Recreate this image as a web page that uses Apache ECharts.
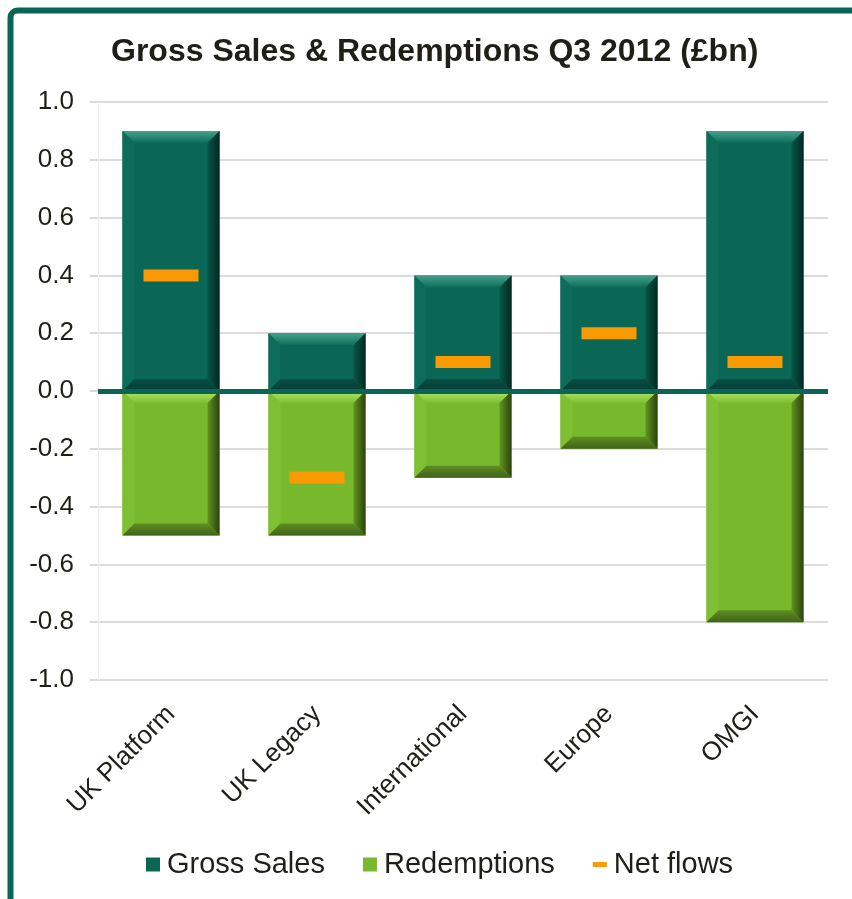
<!DOCTYPE html>
<html>
<head>
<meta charset="utf-8">
<script src="https://cdn.jsdelivr.net/npm/echarts@6/dist/echarts.min.js"></script>
<style>
  html, body { margin: 0; padding: 0; background: #ffffff; }
  #chart { width: 852px; height: 899px; }
</style>
</head>
<body>
<div id="chart"></div>
<script>
// Q3 2012 flows by business unit, £bn
const categories = ['UK Platform', 'UK Legacy', 'International', 'Europe', 'OMGI'];
const grossSales = [0.9, 0.2, 0.4, 0.4, 0.9];
const redemptions = [-0.5, -0.5, -0.3, -0.2, -0.8];
const netFlows = [0.4, -0.3, 0.1, 0.2, 0.1];

const FONT = "'Liberation Sans', Arial, sans-serif";
const BORDER_GREEN = '#0a6554';

// Colour sets for the bevelled bar faces
const palettes = {
  gross: { face: '#0a6655', topA: '#44a28b', topB: '#0e6c5a', left: '#0e6c5a',
           rightA: '#085548', rightB: '#022a22', bottomA: '#084f43', bottomB: '#063d33' },
  red:   { face: '#77b82c', topA: '#b2e866', topB: '#7dbe32', left: '#7fbf33',
           rightA: '#5f9521', rightB: '#2c420c', bottomA: '#5e8f22', bottomB: '#41621a' }
};

function bevelBar(pal) {
  return function (params, api) {
    const idx = api.value(0);
    const v = api.value(1);
    const p0 = api.coord([idx, 0]);
    const p1 = api.coord([idx, v]);
    const w = api.size([1, 0])[0] * 0.665;
    const l = p0[0] - w / 2, r = p0[0] + w / 2;
    const t = Math.min(p0[1], p1[1]), b = Math.max(p0[1], p1[1]);
    const h = b - t;
    const e = Math.min(12, h / 2, w / 2);
    const lin = (x1, y1, x2, y2, c1, c2) => new echarts.graphic.LinearGradient(x1, y1, x2, y2,
      [{ offset: 0, color: c1 }, { offset: 1, color: c2 }]);
    return {
      type: 'group',
      children: [
        { type: 'rect', shape: { x: l, y: t, width: w, height: h }, style: { fill: pal.face } },
        { type: 'polygon', shape: { points: [[l, t], [r, t], [r - e, t + e], [l + e, t + e]] },
          style: { fill: lin(0, 0, 0, 1, pal.topA, pal.topB) } },
        { type: 'polygon', shape: { points: [[l, t], [l + e, t + e], [l + e, b - e], [l, b]] },
          style: { fill: pal.left } },
        { type: 'polygon', shape: { points: [[l, b], [l + e, b - e], [r - e, b - e], [r, b]] },
          style: { fill: lin(0, 0, 0, 1, pal.bottomA, pal.bottomB) } },
        { type: 'polygon', shape: { points: [[r, t], [r, b], [r - e, b - e], [r - e, t + e]] },
          style: { fill: lin(0, 0, 1, 0, pal.rightA, pal.rightB) } }
      ]
    };
  };
}

const chart = echarts.init(document.getElementById('chart'), null, { renderer: 'canvas' });

chart.setOption({
  animation: false,
  backgroundColor: '#ffffff',
  textStyle: { fontFamily: FONT },
  title: {
    text: 'Gross Sales & Redemptions Q3 2012 (£bn)',
    left: 106,
    top: 31,
    textStyle: { fontFamily: FONT, fontSize: 32, fontWeight: 'bold', color: '#1f1f18' }
  },
  graphic: [{
    type: 'rect',
    z: 100,
    silent: true,
    shape: { x: 10.5, y: 10.5, width: 960, height: 1000, r: 7 },
    style: { fill: 'none', stroke: BORDER_GREEN, lineWidth: 6 }
  }],
  legend: {
    left: 141,
    top: 845,
    itemWidth: 14,
    itemHeight: 14,
    itemGap: 38,
    textStyle: { fontFamily: FONT, fontSize: 29, color: '#1f1f18', padding: [0, 0, 0, 2] },
    data: [
      { name: 'Gross Sales', icon: 'rect', itemStyle: { color: '#0a6655' } },
      { name: 'Redemptions', icon: 'rect', itemStyle: { color: '#77b82c' } },
      { name: 'Net flows', icon: 'path://M0,0 h17 v6 h-17 z', itemStyle: { color: '#f89a00' } }
    ]
  },
  grid: { left: 98, right: 24, top: 102, bottom: 219, containLabel: false },
  xAxis: {
    type: 'category',
    data: categories,
    axisLine: { show: false },
    axisTick: { show: false },
    axisLabel: {
      rotate: 45,
      margin: 30,
      interval: 0,
      fontFamily: FONT,
      fontSize: 26,
      color: '#1f1f18'
    },
    splitLine: { show: false }
  },
  yAxis: {
    type: 'value',
    min: -1,
    max: 1,
    interval: 0.2,
    axisLine: { show: true, lineStyle: { color: '#ececec', width: 1 } },
    axisTick: { show: true, length: 8, lineStyle: { color: '#d9d9d9', width: 2 } },
    axisLabel: {
      margin: 24,
      fontFamily: FONT,
      fontSize: 26,
      color: '#1f1f18',
      formatter: v => v.toFixed(1)
    },
    splitLine: { show: true, lineStyle: { color: '#dcdcdc', width: 2 } }
  },
  series: [
    {
      name: 'Gross Sales',
      type: 'custom',
      itemStyle: { color: '#0a6655' },
      renderItem: bevelBar(palettes.gross),
      encode: { x: 0, y: 1 },
      data: grossSales.map((v, i) => [i, v]),
      z: 2
    },
    {
      name: 'Redemptions',
      type: 'custom',
      itemStyle: { color: '#77b82c' },
      renderItem: bevelBar(palettes.red),
      encode: { x: 0, y: 1 },
      data: redemptions.map((v, i) => [i, v]),
      z: 2
    },
    {
      name: 'Net flows',
      type: 'scatter',
      symbol: 'rect',
      symbolSize: [55, 12],
      itemStyle: { color: '#f89a00', opacity: 1 },
      data: netFlows,
      z: 5,
      markLine: {
        silent: true,
        symbol: 'none',
        label: { show: false },
        lineStyle: { color: BORDER_GREEN, width: 5, type: 'solid' },
        data: [{ yAxis: 0 }]
      }
    }
  ]
});
</script>
</body>
</html>
